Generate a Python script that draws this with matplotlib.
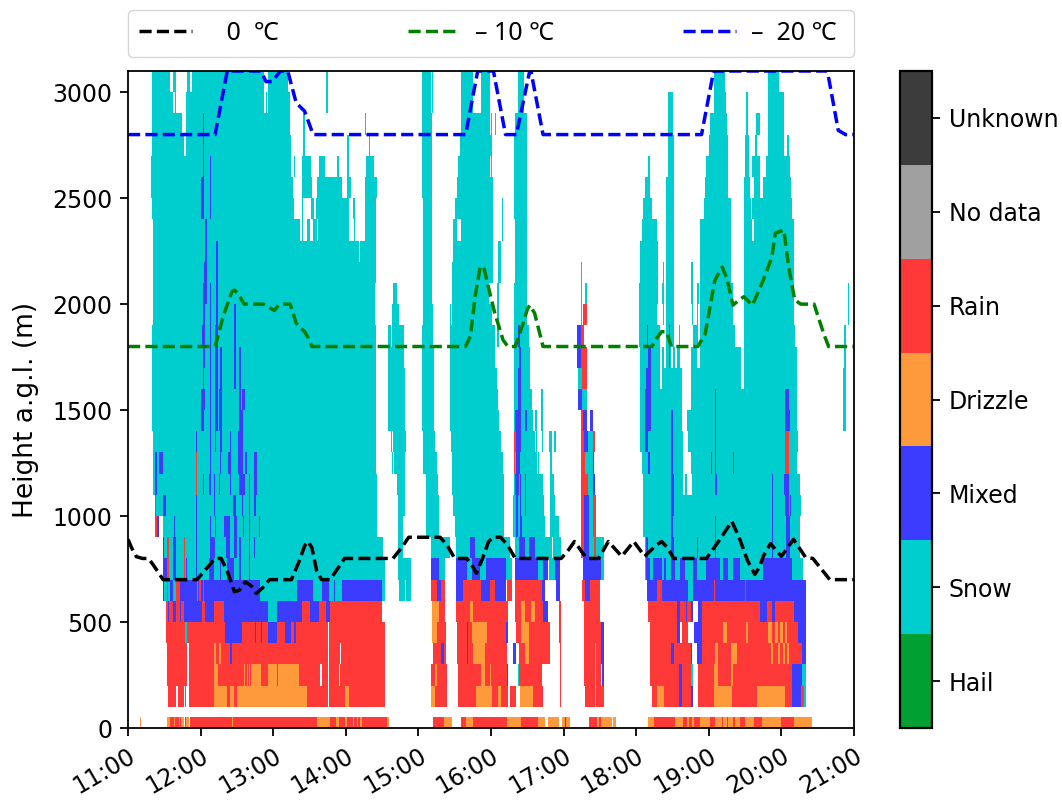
import numpy as np
import matplotlib
matplotlib.use("Agg")
import matplotlib.pyplot as plt
from matplotlib.colors import ListedColormap, BoundaryNorm

# class codes, W wipes a cell back to white
W, S, M, D, R = -1, 1, 2, 3, 4

class_names = ["Hail", "Snow", "Mixed", "Drizzle", "Rain", "No data", "Unknown"]
class_colors = ["#00A032", "#00CDCD", "#3C3CFF", "#FF9A3C", "#FF3838", "#A0A0A0", "#3C3C3C"]
hour_labels = ["11:00", "12:00", "13:00", "14:00", "15:00", "16:00",
               "17:00", "18:00", "19:00", "20:00", "21:00"]

# one list per height band, (start minute after 11:00, end minute, class), painted in order
r3000 = [(20,35,S),(37,40,S),(49,51,S),(53,112,S),(116,132,S),(164,165,S),(243,250,S),(251,252,S),
         (275,285,S),(292,299,S),(322,327,S),(484,493,S),(529,538,S)]
r2900 = [(20,37,S),(39,40,S),(48,112,S),(114,115,S),(116,134,S),(164,165,S),(243,250,S),(251,252,S),
         (275,285,S),(292,299,S),(322,327,S),(446,450,S),(484,494,S),(511,512,S),(529,542,S)]
r2800 = [(20,45,S),(48,134,S),(145,146,S),(196,197,S),(243,251,S),(275,299,S),(300,301,S),(303,304,S),
         (320,330,S),(446,450,S),(481,495,S),(511,512,S),(519,522,S),(529,542,S),(62,63,M)]
r2700 = [(20,46,S),(48,135,S),(145,146,S),(181,183,S),(199,200,S),(243,251,S),(274,301,S),(319,330,S),
         (446,451,S),(480,496,S),(510,513,S),(518,520,S),(529,542,S),(545,546,S),(62,63,M)]
r2600 = [(19,135,S),(137,138,S),(144,151,S),(158,163,S),(173,174,S),(181,183,S),(197,203,S),(243,251,S),
         (273,299,S),(300,301,S),(319,330,S),(430,431,S),(446,451,S),(478,496,S),(510,513,S),(516,522,S),
         (527,547,S),(62,63,M),(68,69,M)]
r2500 = [(19,136,S),(144,152,S),(156,177,S),(181,184,S),(196,206,S),(243,251,S),(272,302,S),(319,330,S),
         (427,431,S),(445,451,S),(477,496,S),(509,514,S),(517,522,S),(525,548,S),(60,63,M),(68,69,M)]
r2400 = [(20,137,S),(144,145,S),(151,154,S),(155,183,S),(186,188,S),(196,205,S),(244,251,S),(270,302,S),
         (309,310,S),(319,330,S),(426,433,S),(445,451,S),(476,498,S),(509,515,S),(516,549,S),
         (60,63,M),(68,69,M)]
r2300 = [(21,142,S),(144,145,S),(148,150,S),(153,156,S),(157,183,S),(187,188,S),(196,205,S),(244,251,S),
         (269,272,S),(275,302,S),(309,310,S),(320,330,S),(425,437,S),(445,451,S),(473,498,S),(509,516,S),
         (517,550,S),(64,65,M)]
r2200 = [(21,191,S),(192,205,S),(244,251,S),(269,302,S),(306,308,S),(320,330,S),(423,438,S),(445,451,S),
         (473,498,S),(509,550,S),(64,65,M),(73,74,M)]
r2100 = [(21,205,S),(244,251,S),(268,302,S),(306,308,S),(320,330,S),(374,375,S),(423,438,S),(442,443,S),
         (445,451,S),(465,467,S),(473,498,S),(509,550,S),(63,65,M),(73,74,M)]
r2000 = [(21,204,S),(219,222,S),(244,251,S),(268,298,S),(305,307,S),(319,330,S),(374,375,S),(378,379,S),
         (422,438,S),(441,443,S),(445,451,S),(465,467,S),(470,472,S),(473,500,S),(509,550,S),(595,596,S),
         (62,65,M),(68,69,M),(73,74,M)]
r1900 = [(21,204,S),(218,224,S),(244,252,S),(266,267,S),(268,301,S),(305,307,S),(319,330,S),(374,375,S),
         (376,379,R),(422,437,S),(442,443,S),(445,451,S),(466,467,S),(470,471,S),(473,500,S),(509,550,S),
         (595,596,S),(62,64,M),(68,69,M),(73,74,M),(88,89,M)]
r1800 = [(20,205,S),(215,217,S),(218,228,S),(243,252,S),(266,303,S),(305,307,S),(319,331,S),(371,374,M),
         (374,377,R),(422,440,S),(445,451,S),(455,456,S),(467,471,S),(473,502,S),(509,551,S),(592,593,S),
         (61,64,M),(68,69,M),(72,74,M),(88,89,M),(322,324,M),(429,430,M),(447,448,M)]
r1700 = [(20,205,S),(215,228,S),(243,253,S),(266,303,S),(319,332,S),(371,374,M),(374,379,R),(423,440,S),
         (441,443,S),(445,449,S),(450,452,S),(454,456,S),(465,470,S),(473,507,S),(509,553,S),(592,593,S),
         (62,64,M),(68,69,M),(72,74,M),(76,78,M),(88,89,M),(92,93,M),(323,325,M),(430,432,M),(447,448,M)]
r1600 = [(20,205,S),(215,229,S),(243,253,S),(266,305,S),(319,332,S),(372,375,S),(375,379,R),(423,440,S),
         (441,458,S),(465,507,S),(509,553,S),(591,593,S),
         (62,63,M),(68,69,M),(72,74,M),(76,78,M),(88,89,M),(92,93,M),(322,325,M),(428,432,M)]
r1500 = [(20,205,S),(215,229,S),(243,253,S),(266,306,S),(319,334,S),(341,343,S),(372,375,M),(375,379,S),
         (423,458,S),(465,553,S),(591,593,S),
         (60,64,M),(68,69,M),(72,74,M),(75,78,M),(92,93,M),(94,97,M),(322,325,M),(427,432,M),(485,486,M),(543,546,M)]
r1400 = [(20,205,S),(215,229,S),(243,253,S),(266,307,S),(319,335,S),(336,338,S),(341,343,S),(374,376,R),
         (376,379,M),(382,384,M),(423,458,S),(462,553,S),(591,593,S),
         (60,63,M),(68,69,M),(72,74,M),(75,78,M),(92,95,M),(320,325,M),(328,330,M),(427,432,M),(449,450,M),
         (485,486,M),(543,547,M)]
r1300 = [(21,205,S),(217,218,S),(219,230,S),(244,254,S),(267,308,S),(319,336,S),(337,338,S),(342,343,S),
         (348,350,S),(352,354,S),(374,377,R),(377,380,M),(380,384,S),(384,386,R),(423,459,S),(463,554,S),
         (56,57,M),(68,69,M),(72,73,M),(76,78,M),(84,85,M),(91,95,M),(319,321,R),(321,325,M),(427,430,M),
         (449,450,M),(485,486,M),(543,546,R)]
r1200 = [(21,205,S),(218,219,S),(220,229,S),(244,255,S),(268,310,S),(319,338,S),(339,340,S),(349,350,S),
         (374,378,R),(378,384,S),(384,385,M),(425,459,S),(465,553,S),
         (22,24,M),(26,29,M),(56,57,R),(68,69,M),(76,77,M),(83,85,M),(91,95,M),(97,98,M),(104,107,M),
         (319,320,R),(321,324,M),(430,431,M),(449,450,M),(482,483,M),(485,486,M),(500,501,M),(543,546,R)]
r1100 = [(21,206,S),(222,229,S),(246,256,S),(268,311,S),(319,339,S),(339,343,S),(349,352,S),(374,380,R),
         (380,384,S),(384,386,M),(426,459,S),(460,462,S),(466,555,S),
         (22,24,M),(56,57,R),(62,63,M),(67,69,M),(71,72,M),(75,76,M),(84,85,M),(92,97,M),(100,101,M),(104,107,M),
         (320,323,M),(324,325,M),(328,329,M),(449,451,M),(485,487,M),(532,533,M),(542,546,M)]
r1000 = [(22,206,S),(223,229,S),(246,257,S),(269,311,S),(318,344,S),(349,353,S),(374,377,R),(377,381,M),
         (381,384,S),(384,387,R),(426,556,S),
         (22,23,R),(29,31,M),(56,57,M),(71,72,M),(87,89,M),(94,95,M),(100,101,M),(104,106,M),
         (321,322,M),(324,325,M),(328,329,M),(449,451,M),(532,533,M),(543,546,M),(547,548,M)]
r900 = [(29,206,S),(223,227,S),(246,257,S),(270,311,S),(318,345,S),(349,356,S),(374,377,R),(377,381,M),
        (381,384,S),(384,387,R),(426,555,S),
        (22,24,R),(24,26,M),(38,39,M),(56,57,M),(68,69,M),(72,73,M),(79,84,M),(88,90,M),(95,96,M),
        (100,101,M),(108,109,M),(321,322,M),(324,326,M),(449,450,M),(485,486,M),(532,533,M),(544,547,M)]
r800 = [(29,211,S),(223,227,S),(250,266,S),(271,316,S),(320,350,S),(351,358,S),(376,393,S),(427,555,S),
        (29,30,M),(32,34,R),(37,40,M),(46,47,R),(56,57,M),(68,72,M),(81,84,M),(88,90,M),(92,93,M),
        (100,101,M),(104,105,M),(283,287,M),(323,328,M),(331,336,M),(374,377,R),(377,381,M),(385,387,R),
        (428,430,M),(449,451,M),(470,471,M),(485,486,M),(532,533,M),(544,547,M)]
r700 = [(29,212,S),(223,234,S),(250,262,S),(271,317,S),(320,347,S),(348,357,S),(376,393,S),(427,558,S),
        (29,33,M),(32,34,R),(37,40,M),(46,47,R),(48,49,M),(56,57,M),(67,71,M),(76,77,M),(82,88,M),(92,93,M),
        (100,101,M),(250,257,M),(271,280,M),(284,291,M),(296,312,M),(320,339,M),(343,347,M),(353,357,M),
        (376,391,M),(428,431,M),(434,441,M),(443,445,M),(449,452,M),(456,460,M),(467,470,M),(478,489,M),
        (492,496,M),(500,506,M),(525,549,M)]
r600 = [(29,212,S),(224,229,S),(230,234,S),(29,30,M),(32,33,R),(35,37,M),(40,43,R),(43,57,M),(58,109,M),
        (59,60,R),(62,63,R),(140,153,M),(160,166,M),(170,171,M),(177,210,M),
        (250,255,R),(255,259,M),(259,262,R),(271,277,M),(277,292,R),(292,299,M),(299,303,R),(303,312,M),
        (313,317,R),(320,342,R),(342,345,M),(354,357,M),(375,378,R),(378,382,M),(382,390,R),
        (429,437,M),(437,441,R),(441,463,M),(463,467,S),(467,560,M),(484,485,R),(510,511,R)]
r500 = [(31,46,R),(33,34,M),(37,40,M),(43,44,M),(46,61,M),(61,64,R),(64,71,M),(71,79,R),(79,116,M),(116,123,S),
        (123,144,M),(144,150,R),(150,158,M),(158,164,R),(164,167,M),(167,210,R),
        (251,257,D),(257,262,R),(271,283,R),(283,285,D),(285,314,R),(320,325,R),(325,328,D),(328,333,R),
        (333,336,D),(336,343,R),(343,347,M),(356,358,R),(377,390,R),
        (430,454,R),(454,456,M),(456,465,R),(461,462,M),(465,467,M),(471,474,M),(474,522,R),(522,528,M),
        (528,532,R),(532,535,M),(535,550,R),(550,560,M)]
r400 = [(31,47,R),(47,49,S),(49,80,R),(80,94,M),(94,116,R),(105,106,M),(110,111,M),(116,123,M),(123,130,R),
        (130,135,M),(137,139,M),(135,137,R),(139,165,R),(166,212,R),
        (251,255,D),(255,263,R),(272,280,R),(280,281,M),(281,284,R),(284,297,D),(297,312,R),(312,314,M),
        (321,325,R),(325,331,D),(331,349,R),(356,358,R),(377,391,R),(391,393,M),
        (431,454,R),(454,456,M),(458,463,R),(468,474,M),(474,492,R),(492,495,D),(495,511,R),(511,512,D),
        (512,550,R),(529,532,D),(535,537,D),(539,541,D),(543,545,D),(550,554,R),(554,560,M)]
r300 = [(32,49,R),(50,71,R),(71,73,D),(73,75,R),(75,77,D),(77,84,R),(84,86,M),(86,165,R),(166,212,R),(175,176,W),
        (252,259,R),(259,261,M),(261,263,R),(272,280,R),(280,281,M),(281,285,R),(285,295,D),(295,313,R),
        (318,321,M),(323,328,R),(328,331,D),(331,349,R),(357,358,R),(377,386,R),(386,387,D),(387,391,R),(391,393,M),
        (431,449,R),(449,451,M),(451,465,R),(465,466,M),(470,474,M),(474,485,R),(485,488,D),(488,498,R),
        (498,503,D),(503,557,R),(531,533,D),(537,539,D),(541,543,D),(545,546,D),(557,560,M)]
r200 = [(32,49,R),(50,71,R),(71,74,D),(74,110,R),(96,97,D),(98,99,D),(100,101,D),(102,110,D),(110,116,R),
        (116,123,D),(123,124,R),(124,141,D),(141,159,R),(160,165,R),(166,174,R),(175,212,R),
        (250,254,R),(254,255,D),(255,264,R),(273,313,R),(292,295,D),(299,300,D),(313,314,M),(322,323,S),
        (323,342,R),(357,358,R),(377,386,R),(386,387,D),(387,391,R),(392,393,M),
        (431,455,R),(455,458,M),(458,465,R),(465,467,S),(471,484,R),(484,488,D),(488,495,R),(495,498,R),(498,500,D),
        (500,503,R),(503,549,R),(549,557,M),(557,560,S)]
r100 = [(33,40,R),(41,46,R),(47,48,R),(50,71,R),(71,82,D),(82,84,R),(84,88,D),(88,90,R),(90,148,D),(148,165,R),
        (166,179,R),(179,183,D),(183,212,R),
        (250,254,D),(254,264,R),(273,288,R),(288,301,D),(301,306,R),(306,308,D),(308,314,R),(316,321,R),
        (324,335,D),(335,343,R),(357,358,R),(378,386,R),(386,387,D),(387,393,R),
        (433,437,R),(437,443,D),(443,455,R),(455,458,M),(458,465,R),(465,467,M),(471,484,R),(484,499,D),
        (499,520,R),(520,543,D),(543,549,R),(549,556,M),(556,559,R),(559,560,S)]
r0 = [(10,11,D),(32,216,R),(32,35,D),(38,39,D),(42,43,D),(44,46,D),(46,47,W),(48,50,D),(50,51,W),(86,87,D),
      (156,167,D),(172,174,D),(179,181,D),(186,187,D),(189,190,D),(192,193,D),(214,216,D),
      (252,261,R),(261,268,D),(275,279,R),(279,285,D),(285,313,R),(313,325,D),(325,339,R),(339,345,D),
      (347,356,D),(359,365,D),(361,362,M),(381,391,R),(388,389,D),(391,400,D),(401,403,D),
      (430,435,D),(435,452,R),(452,459,D),(459,473,R),(462,464,D),(466,468,D),(473,481,D),(481,485,R),
      (485,506,D),(491,492,R),(495,496,R),(500,502,R),(506,510,R),(510,517,D),(517,524,R),(524,540,D),
      (540,550,R),(550,565,D)]

# isotherm height read along the time axis
t_zero = [0,3,7,12,17,22,29,57,63,72,77,82,88,92,97,102,106,111,117,135,141,146,149,152,156,160,167,179,219,226,232,258,264,270,280,284,288,293,298,302,308,314,320,358,364,369,374,379,389,393,397,408,418,427,436,441,446,451,478,488,499,505,512,518,522,525,531,540,550,560,566,573,580,600]
h_zero = [890,850,808,800,800,760,700,700,740,800,800,740,643,650,690,670,635,660,700,700,780,860,880,850,740,700,700,800,800,850,900,900,860,800,800,770,730,800,880,900,900,860,800,800,840,880,840,800,800,840,880,810,880,810,860,880,850,800,800,880,975,900,790,725,760,810,870,810,890,805,800,750,700,700]
t_m10 = [0,72,79,86,88,91,96,112,121,125,134,139,143,146,149,152,279,283,287,291,294,297,303,310,314,320,326,330,332,336,343,433,437,441,445,449,471,477,485,491,495,500,505,509,516,525,532,535,542,546,551,556,567,575,579,584,600]
h_m10 = [1800,1800,1950,2060,2066,2050,2000,2000,1970,2000,2000,1910,1885,1870,1840,1800,1800,1850,2040,2175,2175,2100,1960,1830,1800,1800,1900,1975,1995,1958,1800,1800,1840,1870,1870,1800,1800,1860,2113,2175,2120,1995,2020,2035,1995,2113,2220,2335,2350,2175,2020,2000,2000,1860,1800,1800,1800]
t_m20 = [0,72,82,110,114,119,126,132,139,146,153,279,289,302,312,321,332,333,343,474,484,578,587,593,600]
h_m20 = [2800,2800,3100,3100,3050,3050,3100,3100,2950,2910,2800,2800,3100,3100,2800,2800,3100,3100,2800,2800,3100,3100,2820,2800,2800]

band_lows = [0, 100, 200, 300, 400, 500, 600, 700, 800, 900, 1000, 1100, 1200, 1300, 1400, 1500,
             1600, 1700, 1800, 1900, 2000, 2100, 2200, 2300, 2400, 2500, 2600, 2700, 2800, 2900, 3000]
band_rows = [r0, r100, r200, r300, r400, r500, r600, r700, r800, r900, r1000, r1100, r1200, r1300, r1400,
             r1500, r1600, r1700, r1800, r1900, r2000, r2100, r2200, r2300, r2400, r2500, r2600, r2700,
             r2800, r2900, r3000]

# lowest band only reaches 50 m, 50-100 m stays empty
y_edges = [0, 50] + band_lows[1:] + [3100]
x_edges = np.arange(0, 601)
grid = np.full((len(y_edges) - 1, 600), -1.0)
for i, row in enumerate(band_rows):
    j = 0 if i == 0 else i + 1
    for start, end, code in row:
        grid[j, start:end] = code
grid = np.ma.masked_less(grid, 0)

cmap = ListedColormap(class_colors)
norm = BoundaryNorm(np.arange(-0.5, 7.5, 1), cmap.N)

plt.rcParams["font.family"] = ["DejaVu Sans"]
fig = plt.figure(figsize=(10.62, 8.01), dpi=100)
ax = fig.add_axes([128 / 1062, 1 - 728 / 801, 726 / 1062, 657 / 801])
mesh = ax.pcolormesh(x_edges, y_edges, grid, cmap=cmap, norm=norm, linewidth=0, antialiased=False)

line_style = dict(lw=2.5, dashes=(3.5, 1.5), dash_capstyle="butt")
ax.plot(t_zero, h_zero, color="black", label="   0  ℃", **line_style)
ax.plot(t_m10, h_m10, color="green", label="– 10 ℃", **line_style)
ax.plot(t_m20, h_m20, color="blue", label="–  20 ℃ ", **line_style)

ax.set_xlim(0, 600)
ax.set_ylim(0, 3100)
ax.set_xticks(np.arange(0, 601, 60))
ax.set_xticklabels(hour_labels, rotation=30, ha="right", rotation_mode="anchor")
ax.set_yticks(np.arange(0, 3001, 500))
ax.tick_params(labelsize=17, length=6, width=1.3, pad=5)
ax.set_ylabel("Height a.g.l. (m)", fontsize=19)
ax.yaxis.set_label_coords(-0.122, 0.484)
for spine in ax.spines.values():
    spine.set_linewidth(1.3)

ax.legend(loc="lower left", bbox_to_anchor=(0, 1.021, 1, 0.06), mode="expand", ncol=3, borderaxespad=0,
          prop={"family": ["Noto Sans", "Noto Sans CJK SC", "DejaVu Sans"], "size": 18},
          handlelength=2.1, handletextpad=0.6, borderpad=0.45)

cax = fig.add_axes([900 / 1062, 1 - 728 / 801, 32 / 1062, 657 / 801])
cbar = fig.colorbar(mesh, cax=cax, ticks=np.arange(7))
cbar.ax.set_yticklabels(class_names)
cbar.ax.minorticks_off()
cbar.ax.tick_params(labelsize=17, length=6, width=1.3, pad=6)
cbar.outline.set_linewidth(1.6)

fig.savefig("out.png", dpi=100)
